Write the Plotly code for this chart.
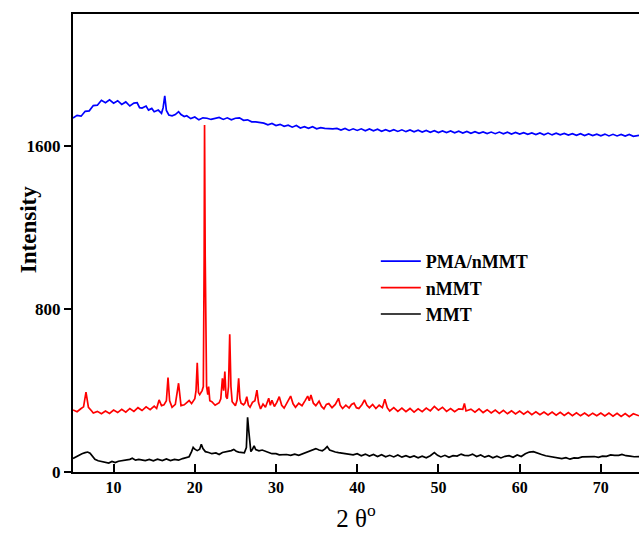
import plotly.graph_objects as go

# ---------------- data ----------------
pma_x = [5.0, 5.5, 6.0, 6.5, 7.0, 7.5, 8.0, 8.5, 9.0, 9.5, 10.0, 10.5, 11.0, 11.5, 12.0, 12.5,
         12.9, 13.2, 13.5, 14.0, 14.3, 14.7, 15.0, 15.5, 15.9, 16.1, 16.3, 16.5, 16.8, 17.2, 17.6,
         18.0, 18.3, 18.7, 19.0, 19.5, 20.0, 20.5, 21.0, 21.5, 22.0, 22.5, 23.0, 23.5, 24.0, 24.5,
         25.0, 25.5, 26.0, 26.5, 27.0, 27.5, 28.0, 28.5, 29.0, 29.5, 30.0, 30.5, 31.0, 31.5, 32.0,
         32.5, 33.0, 33.5, 34.0, 34.5, 35.0, 35.5, 36.0, 36.5, 37.0, 37.5, 38.0, 38.5, 39.0, 39.5,
         40.0, 40.5, 41.0, 41.5, 42.0, 42.5, 43.0, 43.5, 44.0, 44.5, 45.0, 45.5, 46.0, 46.5, 47.0,
         47.5, 48.0, 48.5, 49.0, 49.5, 50.0, 50.5, 51.0, 51.5, 52.0, 52.5, 53.0, 53.5, 54.0, 54.5,
         55.0, 55.5, 56.0, 56.5, 57.0, 57.5, 58.0, 58.5, 59.0, 59.5, 60.0, 60.5, 61.0, 61.5, 62.0,
         62.5, 63.0, 63.5, 64.0, 64.5, 65.0, 65.5, 66.0, 66.5, 67.0, 67.5, 68.0, 68.5, 69.0, 69.5,
         70.0, 70.5, 71.0, 71.5, 72.0, 72.5, 73.0, 73.5, 74.0, 74.7]
pma_y = [1739, 1752, 1748, 1772, 1774, 1800, 1802, 1826, 1814, 1828, 1812, 1824, 1806, 1818, 1798, 1812,
         1814, 1790, 1788, 1798, 1778, 1786, 1770, 1778, 1762, 1790, 1848, 1776, 1754, 1750, 1756,
         1770, 1756, 1746, 1750, 1736, 1744, 1730, 1740, 1738, 1732, 1738, 1742, 1732, 1740, 1730,
         1738, 1740, 1728, 1730, 1720, 1720, 1718, 1714, 1706, 1712, 1702, 1708, 1698, 1704, 1694,
         1702, 1690, 1696, 1688, 1696, 1686, 1692, 1688, 1686, 1686, 1688, 1680, 1688, 1678, 1686,
         1678, 1686, 1676, 1685, 1676, 1684, 1674, 1682, 1674, 1682, 1673, 1681, 1672, 1680, 1671,
         1679, 1670, 1678, 1669, 1677, 1668, 1676, 1668, 1675, 1666, 1674, 1665, 1673, 1664, 1672,
         1664, 1671, 1663, 1670, 1662, 1670, 1661, 1669, 1660, 1668, 1660, 1667, 1659, 1666, 1658,
         1666, 1657, 1665, 1656, 1664, 1656, 1663, 1655, 1662, 1654, 1662, 1653, 1661, 1653, 1660,
         1652, 1660, 1651, 1659, 1651, 1658, 1650, 1658, 1649, 1654]

nmmt_x = [5.0, 5.5, 6.0, 6.3, 6.6, 6.9, 7.3, 7.5, 8.0, 8.5, 9.0, 9.5, 10.0, 10.5, 11.0, 11.5, 12.0,
          12.5, 13.0, 13.5, 14.0, 14.5, 15.0, 15.3, 15.6, 15.9, 16.2, 16.5, 16.7, 16.9, 17.2, 17.6,
          18.0, 18.3, 18.7, 19.0, 19.3, 19.6, 20.0, 20.15, 20.3, 20.45, 20.6, 20.9, 21.05, 21.15,
          21.2, 21.28, 21.35, 21.45, 21.6, 21.7, 21.85, 22.1, 22.5, 23.0, 23.2, 23.4, 23.55, 23.7,
          23.85, 24.0, 24.15, 24.3, 24.45, 24.6, 25.0, 25.2, 25.4, 25.55, 25.7, 26.0, 26.2, 26.4,
          26.6, 26.8, 27.1, 27.4, 27.65, 27.85, 28.1, 28.4, 28.7, 29.1, 29.3, 29.5, 29.8, 30.1, 30.4,
          30.7, 31.0, 31.4, 31.8, 32.1, 32.4, 32.8, 33.2, 33.6, 33.9, 34.1, 34.3, 34.6, 34.9, 35.3,
          35.6, 35.9, 36.2, 36.5, 36.9, 37.3, 37.7, 37.9, 38.2, 38.6, 39.0, 39.3, 39.6, 39.9, 40.2,
          40.6, 40.9, 41.2, 41.5, 41.9, 42.3, 42.7, 43.1, 43.4, 43.7, 44.0, 44.5, 45.0, 45.5, 46.0,
          46.5, 47.0, 47.5, 48.0, 48.5, 49.0, 49.5, 50.0, 50.5, 51.0, 51.5, 52.0, 52.5, 53.0, 53.2,
          53.4, 54.0, 54.5, 55.0, 55.5, 56.0, 56.5, 57.0, 57.5, 58.0, 58.5, 59.0, 59.5, 60.0, 60.5,
          61.0, 61.5, 62.0, 62.5, 63.0, 63.5, 64.0, 64.5, 65.0, 65.5, 66.0, 66.5, 67.0, 67.5, 68.0,
          68.5, 69.0, 69.5, 70.0, 70.5, 71.0, 71.5, 72.0, 72.5, 73.0, 73.5, 74.0, 74.7]
nmmt_y = [305, 296, 312, 320, 392, 318, 300, 290, 298, 286, 300, 288, 304, 292, 308, 294, 312,
          298, 316, 302, 320, 306, 324, 312, 354, 326, 330, 350, 464, 350, 318, 332,
          436, 326, 330, 340, 351, 336, 360, 400, 537, 390, 380, 400, 420, 1040,
          1705, 1060, 800, 420, 380, 420, 350, 345, 328, 340, 360, 460, 400, 493,
          370, 360, 420, 677, 420, 345, 326, 352, 460, 360, 338, 330, 340, 370,
          328, 318, 342, 350, 402, 340, 310, 334, 318, 362, 328, 352, 322, 342, 370,
          328, 314, 342, 373, 335, 318, 338, 326, 352, 373, 350, 378, 338, 326, 348,
          322, 310, 332, 336, 316, 332, 362, 328, 312, 328, 314, 332, 338, 316, 312,
          332, 354, 328, 316, 332, 312, 328, 316, 357, 316, 300, 316, 298, 314, 296,
          312, 294, 310, 296, 314, 300, 322, 304, 318, 298, 312, 296, 310, 308, 337,
          300, 309, 294, 310, 292, 306, 290, 304, 288, 303, 286, 301, 285, 299, 284,
          298, 282, 296, 281, 295, 280, 294, 279, 293, 278, 292, 277, 291, 276, 290,
          275, 289, 276, 290, 275, 289, 274, 288, 273, 287, 272, 286, 276]

mmt_x = [5.0, 5.4, 5.7, 6.1, 6.5, 6.8, 7.1, 7.4, 7.7, 8.1, 8.6, 9.0, 9.4, 9.8, 10.2, 10.6, 11.0,
         11.5, 12.0, 12.3, 12.7, 13.1, 13.5, 13.9, 14.4, 14.9, 15.4, 16.0, 16.5, 17.0, 17.5, 18.0,
         18.5, 19.0, 19.3, 19.6, 19.8, 20.0, 20.3, 20.6, 20.8, 21.0, 21.3, 21.7, 22.1, 22.6, 23.0,
         23.4, 23.8, 24.2, 24.5, 24.8, 25.1, 25.4, 25.8, 26.1, 26.35, 26.5, 26.65, 26.8, 26.9,
         27.1, 27.3, 27.5, 27.9, 28.3, 28.7, 29.1, 29.5, 30.0, 30.4, 30.8, 31.3, 31.8, 32.3, 32.8,
         33.2, 33.6, 34.0, 34.5, 34.9, 35.3, 35.7, 36.0, 36.3, 36.6, 36.9, 37.3, 37.7, 38.2, 38.6,
         39.0, 39.5, 40.0, 40.5, 41.0, 41.5, 42.0, 42.5, 43.0, 43.5, 44.0, 44.5, 45.0, 45.5, 46.0,
         46.5, 47.0, 47.5, 48.0, 48.5, 49.0, 49.5, 49.9, 50.3, 50.8, 51.3, 51.8, 52.3, 52.8, 53.2,
         53.7, 54.2, 54.7, 55.2, 55.7, 56.2, 56.7, 57.2, 57.7, 58.2, 58.7, 59.2, 59.7, 60.2, 60.7,
         61.2, 61.7, 62.2, 62.7, 63.2, 63.7, 64.2, 64.7, 65.2, 65.7, 66.2, 66.7, 67.2, 67.7, 68.2,
         68.7, 69.2, 69.7, 70.2, 70.7, 71.2, 71.7, 72.2, 72.6, 73.1, 73.6, 74.1, 74.7]
mmt_y = [66, 76, 84, 90, 95, 98, 92, 78, 62, 55, 51, 48, 44, 52, 46, 53, 55,
         60, 62, 68, 58, 62, 60, 56, 62, 55, 63, 56, 64, 56, 62, 58,
         66, 70, 75, 100, 121, 112, 105, 112, 136, 115, 100, 96, 90, 94, 86,
         96, 98, 100, 105, 111, 102, 98, 96, 94, 120, 269, 200, 110, 100,
         112, 128, 110, 104, 108, 100, 96, 90, 90, 84, 86, 86, 82, 88, 82,
         88, 92, 98, 108, 115, 108, 104, 112, 125, 108, 102, 98, 95, 92, 90,
         88, 84, 90, 80, 88, 78, 86, 76, 85, 75, 82, 74, 84, 73, 80,
         72, 79, 70, 78, 70, 80, 95, 82, 74, 82, 72, 80, 78, 88, 82,
         80, 88, 76, 84, 73, 80, 70, 78, 69, 77, 80, 72, 84, 76, 90,
         98, 100, 92, 86, 80, 76, 72, 70, 66, 70, 63, 69, 68, 74, 74,
         76, 76, 72, 78, 77, 84, 82, 82, 86, 80, 78, 75, 76]

series_names = ["PMA/nMMT", "nMMT", "MMT"]
series_colors = ["#0000ff", "#ff0000", "#000000"]
x_tick_vals = [10, 20, 30, 40, 50, 60, 70]
y_tick_vals = [0, 800, 1600]
y_tick_text = ["0", "800", "1600"]

# ---------------- figure ----------------
FONT = "Liberation Serif, Times New Roman, serif"
fig = go.Figure()
for xs, ys, name, col in zip([pma_x, nmmt_x, mmt_x], [pma_y, nmmt_y, mmt_y],
                             series_names, series_colors):
    fig.add_trace(go.Scatter(x=xs, y=ys, mode="lines", name=name,
                             line=dict(color=col, width=1.7)))

fig.update_layout(
    width=639, height=534,
    margin=dict(l=73, r=0, t=14, b=62),
    paper_bgcolor="white", plot_bgcolor="white",
    showlegend=True,
    legend=dict(x=0.535, y=0.5, xanchor="left", yanchor="top",
                bgcolor="rgba(0,0,0,0)", borderwidth=0,
                font=dict(family=FONT, size=18, color="black", weight="bold"),
                tracegroupgap=0, itemwidth=40),
    font=dict(family=FONT, color="black"),
    annotations=[dict(text="<b>Intensity</b>", textangle=-90, xref="paper", yref="paper",
                      x=-0.0795, y=0.528, xanchor="center", yanchor="middle",
                      showarrow=False, font=dict(family=FONT, size=23, color="black"))],
)
fig.update_xaxes(
    range=[5, 74.7], tickvals=x_tick_vals, ticks="inside", ticklen=8, tickwidth=2,
    tickcolor="black", showline=True, linecolor="black", linewidth=2, mirror=True,
    showgrid=False, zeroline=False,
    tickfont=dict(family=FONT, size=16, color="black", weight="bold"),
    title=dict(text="2 θ<sup>o</sup>", font=dict(family=FONT, size=25, color="black"),
               standoff=14),
)
fig.update_yaxes(
    range=[0, 2250], tickvals=y_tick_vals, ticktext=y_tick_text, ticks="outside", ticklen=7,
    tickwidth=2, tickcolor="black", showline=True, linecolor="black", linewidth=2,
    showgrid=False, zeroline=False,
    tickfont=dict(family=FONT, size=17, color="black", weight="bold"),
)

fig.write_html("out.html")
